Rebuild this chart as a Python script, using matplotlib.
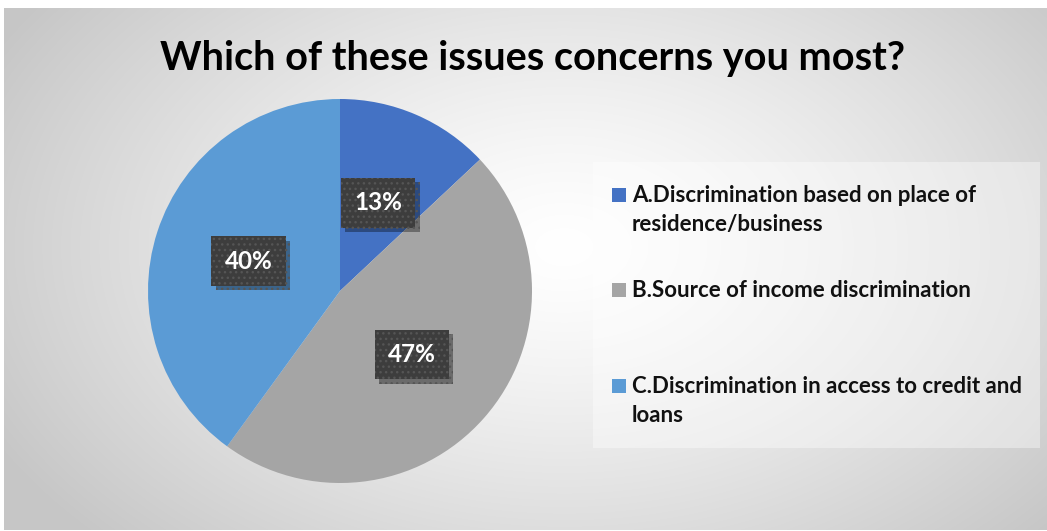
import numpy as np
import matplotlib.pyplot as plt
import matplotlib.patheffects as pe
from matplotlib.patches import Rectangle

title = "Which of these issues concerns you most?"
labels = ["A.Discrimination based on place of\nresidence/business",
          "B.Source of income discrimination",
          "C.Discrimination in access to credit and\nloans"]
shares = [13, 47, 40]
colors = ["#4472C4", "#A5A5A5", "#5B9BD5"]

plt.rcParams['font.family'] = ['Lato', 'DejaVu Sans']

W, H = 1047, 531
fig = plt.figure(figsize=(W / 100, H / 100), dpi=100)
fig.patch.set_facecolor('white')

# radial grey background
bg = fig.add_axes([4 / W, 0, 1 - 4 / W, (H - 8) / H])
bg.set_axis_off()
yy, xx = np.mgrid[0:H - 8, 0:W - 4]
cx, cy = 560, 240
d = np.hypot((xx - cx) / 640, (yy - cy) / 420)
d = np.clip(d, 0, 1)
shade = 1.0 - 0.22 * d ** 1.3
bg.imshow(np.dstack([shade] * 3), aspect='auto', interpolation='bilinear')
bg.set_xlim(0, W - 4)
bg.set_ylim(H - 8, 0)

fig.text(533 / W, 1 - 70 / H, title, ha='center', va='baseline',
         fontsize=28.5, fontweight='bold', color='black')

# pie
r = 192
pcx, pcy = 340, 291
ax = fig.add_axes([(pcx - r) / W, (H - pcy - r) / H, 2 * r / W, 2 * r / H])
wedges, _, autotexts = ax.pie(shares, colors=colors, startangle=90, counterclock=False,
                              autopct=lambda p: '%d%%' % round(p), pctdistance=0.5,
                              radius=1, wedgeprops=dict(linewidth=0))
ax.set_xlim(-1, 1)
ax.set_ylim(-1, 1)
ax.set_aspect('equal')
for t in autotexts:
    t.set_color('white')
    t.set_fontsize(17.5)
    t.set_fontweight('bold')
    t.set_bbox(dict(boxstyle='square,pad=0.55', facecolor='#3d3d3d',
                    edgecolor='#555555', hatch='...', linewidth=0))
    t.get_bbox_patch().set_path_effects([
        pe.SimplePatchShadow(offset=(3, -3), shadow_rgbFace='black', alpha=0.35),
        pe.Normal()])

# legend panel
fig.patches.append(Rectangle((593 / W, 1 - 448 / H), (1040 - 593) / W, (448 - 162) / H,
                             transform=fig.transFigure, facecolor='white',
                             alpha=0.38, linewidth=0))
baselines = [202, 297, 393]
line_step = 29
for lab, col, yb in zip(labels, colors, baselines):
    fig.patches.append(Rectangle((612 / W, 1 - yb / H), 14 / W, 14 / H,
                                 transform=fig.transFigure, facecolor=col, linewidth=0))
    for k, line in enumerate(lab.split('\n')):
        fig.text(632 / W, 1 - (yb + k * line_step) / H, line, ha='left', va='baseline',
                 fontsize=16, fontweight='bold', color='#111111')

fig.savefig('out.png', dpi=100)
